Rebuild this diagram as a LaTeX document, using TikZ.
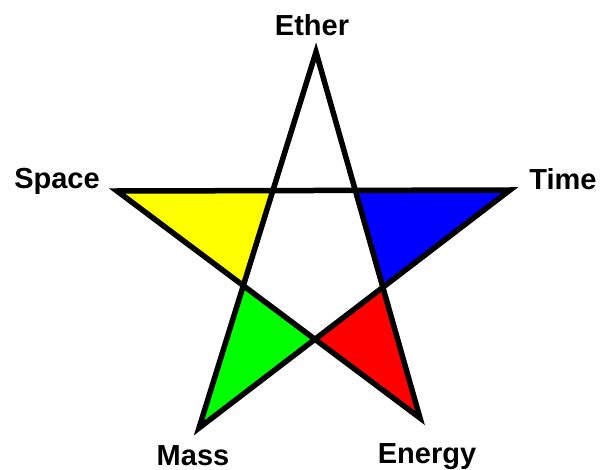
\documentclass[tikz,border=0pt]{standalone}
\usepackage{fontspec}
\setmainfont{Liberation Sans}
\definecolor{StarYellow}{RGB}{255,255,0}
\definecolor{StarBlue}{RGB}{0,0,255}
\definecolor{StarGreen}{RGB}{0,255,0}
\definecolor{StarRed}{RGB}{255,0,0}
\tikzset{
  point label/.style={anchor=base, font=\fontsize{29}{34}\selectfont\bfseries, inner sep=0pt},
  star edge/.style={draw=black, line width=5.5pt, line join=miter}
}
\begin{document}
\begin{tikzpicture}[x=1pt, y=-1pt]

% === Canvas ===
\useasboundingbox (0,0) rectangle (604,470);
\fill[white] (0,0) rectangle (604,470);

% === Star points ===
\coordinate (vEther)  at (316,52);
\coordinate (vSpace)  at (117,191);
\coordinate (vTime)   at (510,190);
\coordinate (vMass)   at (199,428);
\coordinate (vEnergy) at (420,418);

% Inner crossings
\coordinate (iSpace)  at (intersection of vEther--vMass and vSpace--vTime);
\coordinate (iTime)   at (intersection of vEther--vEnergy and vSpace--vTime);
\coordinate (iMass)   at (intersection of vEther--vMass and vSpace--vEnergy);
\coordinate (iEnergy) at (intersection of vEther--vEnergy and vMass--vTime);
\coordinate (iLow)    at (intersection of vSpace--vEnergy and vMass--vTime);

% === Coloured corners ===
\fill[StarYellow] (vSpace) -- (iSpace) -- (iMass) -- cycle;
\fill[StarBlue]   (iTime) -- (vTime) -- (iEnergy) -- cycle;
\fill[StarGreen]  (iMass) -- (vMass) -- (iLow) -- cycle;
\fill[StarRed]    (iLow) -- (iEnergy) -- (vEnergy) -- cycle;

% === Star outline ===
\draw[star edge] (vEther) -- (vMass) -- (vTime) -- (vSpace) -- (vEnergy) -- cycle;

% === Labels ===
\node[point label] (ether)  at (312,36)  {Ether};
\node[point label] (space)  at (57,189)  {Space};
\node[point label] (time)   at (563,190) {Time};
\node[point label] (mass)   at (193,465) {Mass};
\node[point label] (energy) at (427,463) {Energy};

\end{tikzpicture}
\end{document}
